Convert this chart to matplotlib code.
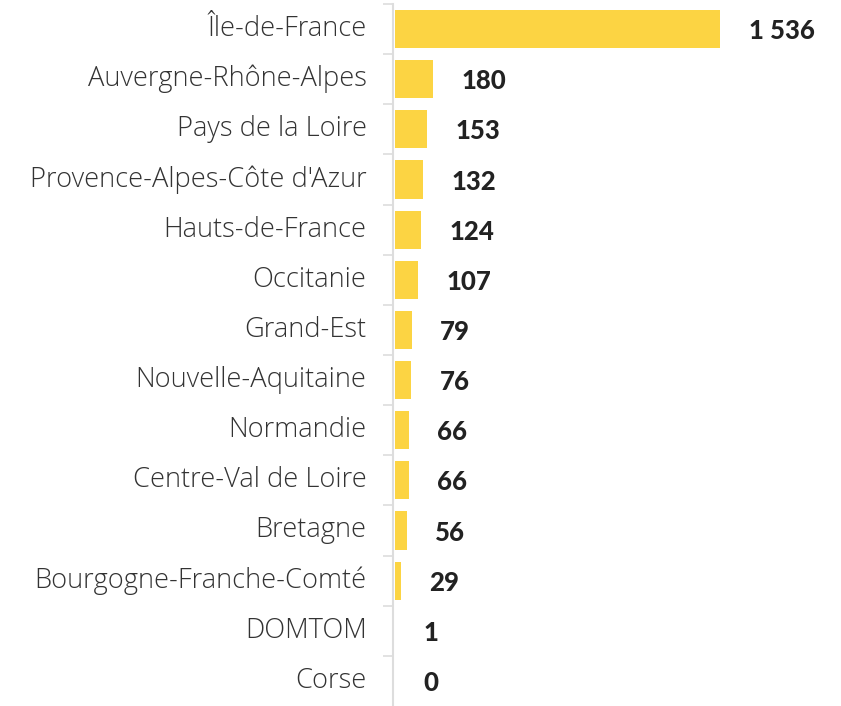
import matplotlib.pyplot as plt

# Data
regions = ["Île-de-France", "Auvergne-Rhône-Alpes", "Pays de la Loire",
           "Provence-Alpes-Côte d'Azur", "Hauts-de-France", "Occitanie",
           "Grand-Est", "Nouvelle-Aquitaine", "Normandie",
           "Centre-Val de Loire", "Bretagne", "Bourgogne-Franche-Comté",
           "DOMTOM", "Corse"]
values = [1536, 180, 153, 132, 124, 107, 79, 76, 66, 66, 56, 29, 1, 0]

fig = plt.figure(figsize=(8.41, 7.06), dpi=100)
ax = fig.add_axes([393 / 841, 0.0, (841 - 393) / 841, 702 / 706])

pos = list(range(len(regions)))
ax.barh(pos, values, height=0.76, color="#FCD443", left=9)

ax.set_ylim(len(regions) - 0.5, -0.5)
ax.set_xlim(0, 2117)

# Value labels
for y, v in zip(pos, values):
    txt = f"{v:,}".replace(",", " ")
    ax.text(v + 9 + 135, y + 0.04, txt, va="center", ha="left",
            fontsize=18.5, fontweight="black", family="Lato", color="#222222")

# Category labels
ax.set_yticks(pos)
ax.set_yticklabels(regions, fontsize=19.6, family="Open Sans", fontweight="light",
                   color="#333333", va="center")
ax.tick_params(axis="y", length=0, pad=19)
ax.set_yticks([p + 0.5 for p in pos[:-1]] + [-0.5], minor=True)
ax.tick_params(axis="y", which="minor", length=7, color="#dddddd", width=1.2)

ax.set_xticks([])
for s in ["top", "right", "bottom"]:
    ax.spines[s].set_visible(False)
ax.spines["left"].set_color("#dddddd")
ax.spines["left"].set_linewidth(1.5)

fig.savefig("out.png", dpi=100)
